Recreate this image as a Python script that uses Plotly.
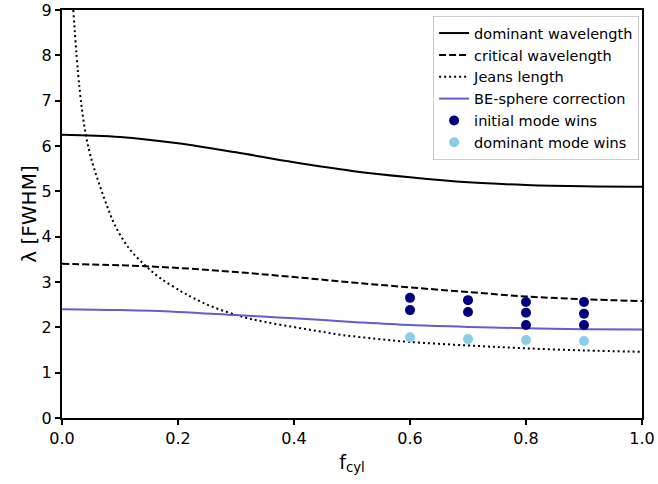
import plotly.graph_objects as go

# Curves
x_curve = [0.0, 0.1, 0.2, 0.3, 0.4, 0.5, 0.6, 0.7, 0.8, 0.9, 1.0]
dominant = [6.25, 6.20, 6.06, 5.86, 5.64, 5.45, 5.31, 5.20, 5.14, 5.11, 5.10]
critical = [3.40, 3.37, 3.31, 3.22, 3.11, 2.99, 2.88, 2.78, 2.68, 2.62, 2.58]
be_sphere = [2.40, 2.38, 2.34, 2.27, 2.20, 2.12, 2.05, 2.01, 1.98, 1.96, 1.95]

x_jeans = [0.0195, 0.03, 0.041, 0.052, 0.063, 0.077, 0.091, 0.115, 0.143, 0.169, 0.206,
           0.226, 0.26, 0.312, 0.35, 0.398, 0.44, 0.484, 0.54, 0.597, 0.7, 0.795, 0.9, 1.0]
jeans = [9.0, 7.3, 6.25, 5.65, 5.21, 4.70, 4.26, 3.75, 3.37, 3.09, 2.79,
         2.65, 2.45, 2.23, 2.12, 2.01, 1.92, 1.83, 1.75, 1.68, 1.60, 1.54, 1.49, 1.46]

# Simulation outcomes
x_initial = [0.6, 0.6, 0.7, 0.7, 0.8, 0.8, 0.8, 0.9, 0.9, 0.9]
y_initial = [2.65, 2.38, 2.60, 2.34, 2.56, 2.32, 2.05, 2.56, 2.30, 2.05]
x_dominant = [0.6, 0.7, 0.8, 0.9]
y_dominant = [1.78, 1.74, 1.72, 1.70]

fig = go.Figure()
fig.add_trace(go.Scatter(x=x_curve, y=dominant, mode="lines", name="dominant wavelength",
                         line=dict(color="black", width=2, shape="spline")))
fig.add_trace(go.Scatter(x=x_curve, y=critical, mode="lines", name="critical wavelength",
                         line=dict(color="black", width=2, dash="7px,3px", shape="spline")))
fig.add_trace(go.Scatter(x=x_jeans, y=jeans, mode="lines", name="Jeans length",
                         line=dict(color="black", width=2, dash="2px,3px", shape="spline")))
fig.add_trace(go.Scatter(x=x_curve, y=be_sphere, mode="lines", name="BE-sphere correction",
                         line=dict(color="#6A5ACD", width=2, shape="spline")))
fig.add_trace(go.Scatter(x=x_initial, y=y_initial, mode="markers", name="initial mode wins",
                         marker=dict(color="#000080", size=10)))
fig.add_trace(go.Scatter(x=x_dominant, y=y_dominant, mode="markers", name="dominant mode wins",
                         marker=dict(color="#87CEEB", size=10)))

axis_common = dict(showline=True, linecolor="black", linewidth=2, mirror=True,
                   ticks="outside", ticklen=5, tickwidth=1.5, tickcolor="black",
                   showgrid=False, zeroline=False, automargin=False,
                   tickfont=dict(family="DejaVu Sans", size=16, color="black"))

fig.update_layout(
    width=658, height=484,
    margin=dict(l=62, r=16, t=10, b=66, autoexpand=False),
    paper_bgcolor="white", plot_bgcolor="white",
    font=dict(family="DejaVu Sans", color="black"),
    xaxis=dict(range=[0, 1], tickvals=[0, 0.2, 0.4, 0.6, 0.8, 1.0],
               ticktext=["0.0", "0.2", "0.4", "0.6", "0.8", "1.0"],
               title=dict(text="f<sub>cyl</sub>", font=dict(size=19), standoff=8),
               **axis_common),
    yaxis=dict(range=[0, 9], tickvals=list(range(10)),
               title=dict(text="λ [FWHM]", font=dict(size=20), standoff=0),
               **axis_common),
    legend=dict(x=0.995, y=0.985, xanchor="right", yanchor="top",
                bgcolor="white", bordercolor="#cccccc", borderwidth=1,
                font=dict(family="DejaVu Sans", size=14.5, color="black"),
                tracegroupgap=0, itemwidth=30),
    showlegend=True,
)

fig.write_html("out.html", config={"displayModeBar": False},
               post_script="document.body.style.margin='0';document.body.style.padding='0';")
